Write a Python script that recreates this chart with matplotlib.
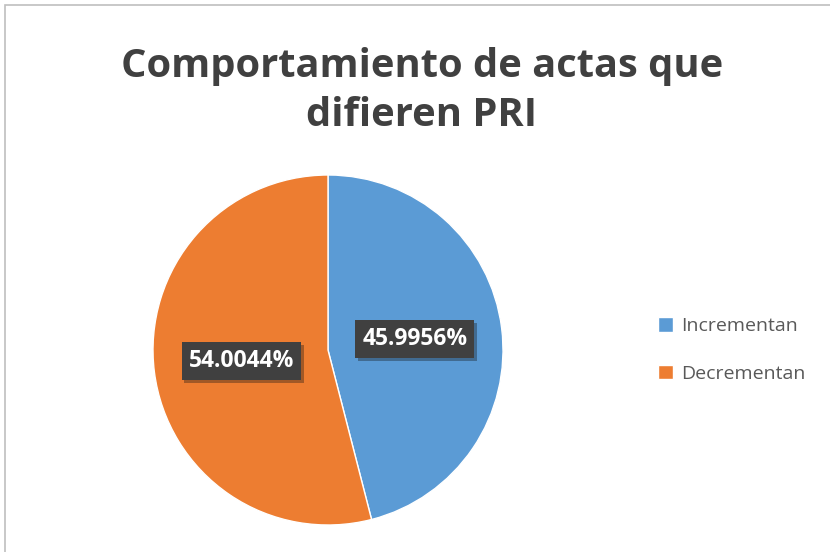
import matplotlib.pyplot as plt
from matplotlib.patches import Rectangle
import matplotlib.patheffects as pe

# data
labels = ['Incrementan', 'Decrementan']
values = [45.9956, 54.0044]
colors = ['#5B9BD5', '#ED7D31']

plt.rcParams['font.family'] = ['Open Sans', 'DejaVu Sans']

fig = plt.figure(figsize=(8.3, 5.52), dpi=100)
fig.patch.set_facecolor('white')

# chart border
fig.patches.append(Rectangle((5 / 830, -0.01), 1.02, (552 - 5) / 552 + 0.01,
                             transform=fig.transFigure, fill=False,
                             edgecolor='#BFBFBF', linewidth=1.2))

# pie axes: centre (328, 350), radius 175 px
cx, cy, r = 328, 350, 175
ax = fig.add_axes([(cx - r) / 830, (552 - cy - r) / 552, 2 * r / 830, 2 * r / 552])

wedges, _, autotexts = ax.pie(values, colors=colors, startangle=90, counterclock=False,
                              autopct=lambda p: f'{p:.4f}%', pctdistance=0.5,
                              wedgeprops=dict(edgecolor='white', linewidth=1))
ax.set_xlim(-1, 1)
ax.set_ylim(-1, 1)
ax.set_aspect('equal')

for t in autotexts:
    t.set_color('white')
    t.set_fontsize(16.5)
    t.set_fontweight('bold')
    t.set_bbox(dict(boxstyle='square,pad=0.3', facecolor='#404040', edgecolor='none'))
    t.get_bbox_patch().set_path_effects([pe.SimplePatchShadow(offset=(2, -2), alpha=0.35),
                                         pe.Normal()])

fig.text(0.508, 0.835, 'Comportamiento de actas que\ndifieren PRI', ha='center', va='center',
         fontsize=28.7, fontweight='bold', color='#404040', linespacing=1.36)

leg = fig.legend(wedges, labels, loc='center left', bbox_to_anchor=(0.772, 0.366),
                 frameon=False, fontsize=14, handlelength=0.75, handleheight=0.75,
                 handletextpad=0.45, labelspacing=1.5, labelcolor='#595959')

fig.savefig('out.png', dpi=100)
